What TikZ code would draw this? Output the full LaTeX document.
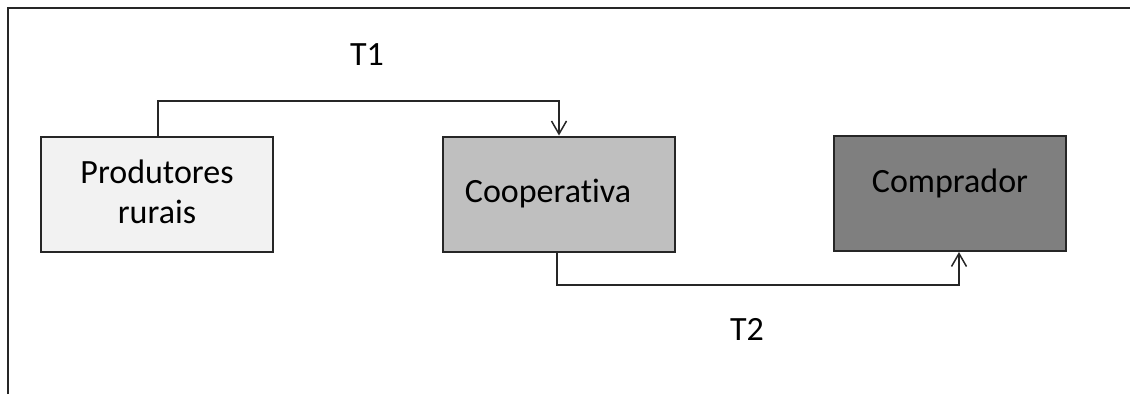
\documentclass[tikz,border=0pt]{standalone}
\usepackage{fontspec}
\setmainfont{Carlito}[Ligatures={NoCommon}]
\usetikzlibrary{arrows.meta}
\definecolor{boxlight}{HTML}{F2F2F2}
\definecolor{boxmid}{HTML}{BFBFBF}
\definecolor{boxdark}{HTML}{7F7F7F}
\tikzset{
  agent/.style={draw=black!85, line width=2pt, rectangle, minimum width=232pt, minimum height=115pt, inner sep=0pt},
  flow/.style={draw=black!85, line width=1.8pt, -{Straight Barb[length=13pt,width=15pt,line width=1.5pt]}},
  lbl/.style={font=\fontsize{34}{41}\selectfont, inner sep=0pt, align=center}
}
\begin{document}
\begin{tikzpicture}[x=1pt,y=-1pt]
  \useasboundingbox (0,0) rectangle (1130,394);
  % partial frame: top edge and left edge
  \draw[line width=2.2pt, black!85] (8,394) -- (8,8) -- (1130,8);

  \node[agent, fill=boxlight] (prod) at (157,194) {};
  \node[agent, fill=boxmid] (coop) at (558.5,194) {};
  \node[agent, fill=boxdark] (comp) at (950,193.5) {};

  \node[lbl, anchor=base] (prodtxt) at (157,183) {Produtores};
  \node[lbl, anchor=base] (prodtxt2) at (157,223) {rurais};
  \node[lbl, anchor=base] (cooptxt) at (548,202) {Cooperativa};
  \node[lbl, anchor=base] (comptxt) at (950,192) {Comprador};

  \node[lbl, anchor=base] (t1) at (367,65) {T1};
  \node[lbl, anchor=base] (t2) at (747,340) {T2};

  \coordinate (a1) at (158,101);
  \coordinate (a2) at (559,101);
  \coordinate (b1) at (557,285);
  \coordinate (b2) at (959,285);

  \draw[flow] (prod.north -| a1) -- (a1) -- (a2) -- (coop.north -| a2);
  \draw[flow] (coop.south -| b1) -- (b1) -- (b2) -- (comp.south -| b2);
\end{tikzpicture}
\end{document}
